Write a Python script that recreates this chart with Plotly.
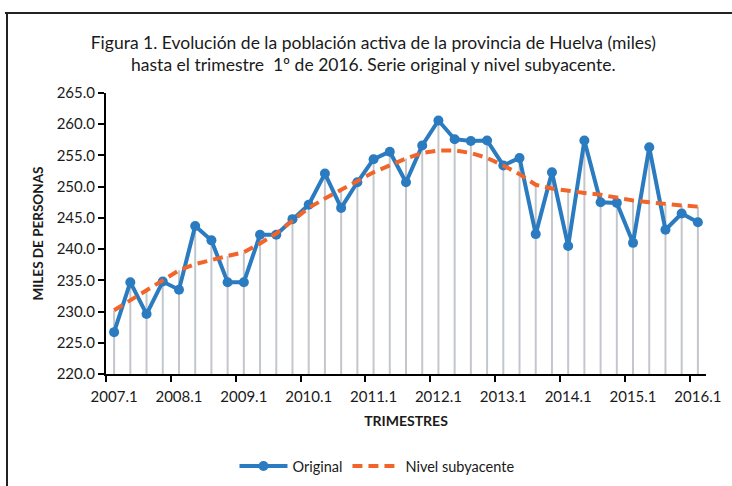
import plotly.graph_objects as go

# Tick labels (one per year, first quarter)
tick_labels = ["2007.1", "2008.1", "2009.1", "2010.1", "2011.1",
               "2012.1", "2013.1", "2014.1", "2015.1", "2016.1"]

# Serie original (miles de personas), 2007.1 .. 2016.1
original = [226.7, 234.7, 229.6, 234.8, 233.5, 243.7, 241.4, 234.7, 234.7, 242.3,
            242.3, 244.8, 247.1, 252.1, 246.6, 250.7, 254.4, 255.6, 250.7, 256.6,
            260.6, 257.6, 257.3, 257.4, 253.4, 254.6, 242.4, 252.3, 240.5, 257.4,
            247.5, 247.4, 241.0, 256.3, 243.1, 245.7, 244.3]

# Nivel subyacente
trend = [230.2, 231.8, 233.3, 235.0, 236.6, 237.6, 238.3, 238.9, 239.5, 240.9,
         242.5, 244.6, 246.6, 248.1, 249.5, 251.0, 252.3, 253.4, 254.5, 255.4,
         255.8, 255.8, 255.4, 254.6, 253.4, 252.0, 250.3, 249.7, 249.3, 249.0,
         248.7, 248.2, 247.8, 247.5, 247.2, 247.0, 246.8]

y_min, y_max = 220, 265
n = len(original)
x = list(range(n))

# Drop lines from the highest series value down to the axis
drop_x, drop_y = [], []
for i in x:
    drop_x += [i, i, None]
    drop_y += [y_min, max(original[i], trend[i]), None]

fig = go.Figure()
fig.add_trace(go.Scatter(x=drop_x, y=drop_y, mode="lines",
                         line=dict(color="#C3C7CC", width=2),
                         showlegend=False, hoverinfo="skip"))
fig.add_trace(go.Scatter(x=x, y=original, mode="lines+markers", name="Original",
                         line=dict(color="#2B7BC0", width=4),
                         marker=dict(size=10, color="#2B7BC0")))
fig.add_trace(go.Scatter(x=x, y=trend, mode="lines", name="Nivel subyacente",
                         line=dict(color="#F2652A", width=4, dash="10px,6px")))

font_family = "Lato, 'Open Sans', sans-serif"
text_color = "#1a1a1a"

L, T, W, H = 106, 93, 600, 280.6

fig.update_layout(
    width=732, height=486,
    margin=dict(l=L, r=732 - L - W, t=T, b=486 - T - H),
    paper_bgcolor="white", plot_bgcolor="white",
    font=dict(family=font_family, color=text_color, size=15),
    title=dict(
        text="Figura 1. Evolución de la población activa de la provincia de Huelva (miles)<br>"
             "hasta el trimestre  1º de 2016. Serie original y nivel subyacente.",
        x=0.51, xref="container", xanchor="center",
        y=1 - 48.5 / 486, yref="container", yanchor="middle",
        font=dict(size=17.5, family=font_family, color=text_color),
    ),
    xaxis=dict(
        range=[-0.5, n - 0.5],
        tickvals=list(range(0, n, 4)),
        ticktext=tick_labels,
        ticks="outside", ticklen=8, tickcolor="rgba(0,0,0,0)",
        showline=True, linecolor="black", linewidth=2,
        showgrid=False, zeroline=False,
        tickfont=dict(size=15),
        minor=dict(tickvals=[v - 0.5 for v in range(0, n, 4)],
                   ticks="outside", ticklen=6, tickwidth=2, tickcolor="black",
                   showgrid=False),
        title=dict(text="<b>TRIMESTRES</b>", font=dict(size=14), standoff=12),
    ),
    yaxis=dict(
        range=[y_min, y_max],
        dtick=5, tick0=y_min,
        tickformat=".1f",
        ticks="outside", ticklen=6, tickwidth=2, tickcolor="black",
        showline=True, linecolor="black", linewidth=2,
        showgrid=False, zeroline=False,
        tickfont=dict(size=15),
        title=dict(text="<b>MILES DE PERSONAS</b>", font=dict(size=13.5), standoff=10),
    ),
    legend=dict(
        orientation="h",
        x=0.515, xref="container", xanchor="center",
        y=1 - 466 / 486, yref="container", yanchor="middle",
        font=dict(size=14.5),
        itemwidth=48,
    ),
    shapes=[
        dict(type="line", xref="paper", yref="paper",
             x0=(5 - L) / W, x1=1.2, y0=(T + H - 13) / H, y1=(T + H - 13) / H,
             line=dict(color="#222", width=2)),
        dict(type="line", xref="paper", yref="paper",
             x0=(7 - L) / W, x1=(7 - L) / W, y0=(T + H - 13) / H, y1=-0.6,
             line=dict(color="#222", width=2)),
    ],
)

fig.write_html("out.html",
               config={"displayModeBar": False},
               post_script="document.body.style.margin='0px';"
                           "document.body.style.overflow='hidden';")
